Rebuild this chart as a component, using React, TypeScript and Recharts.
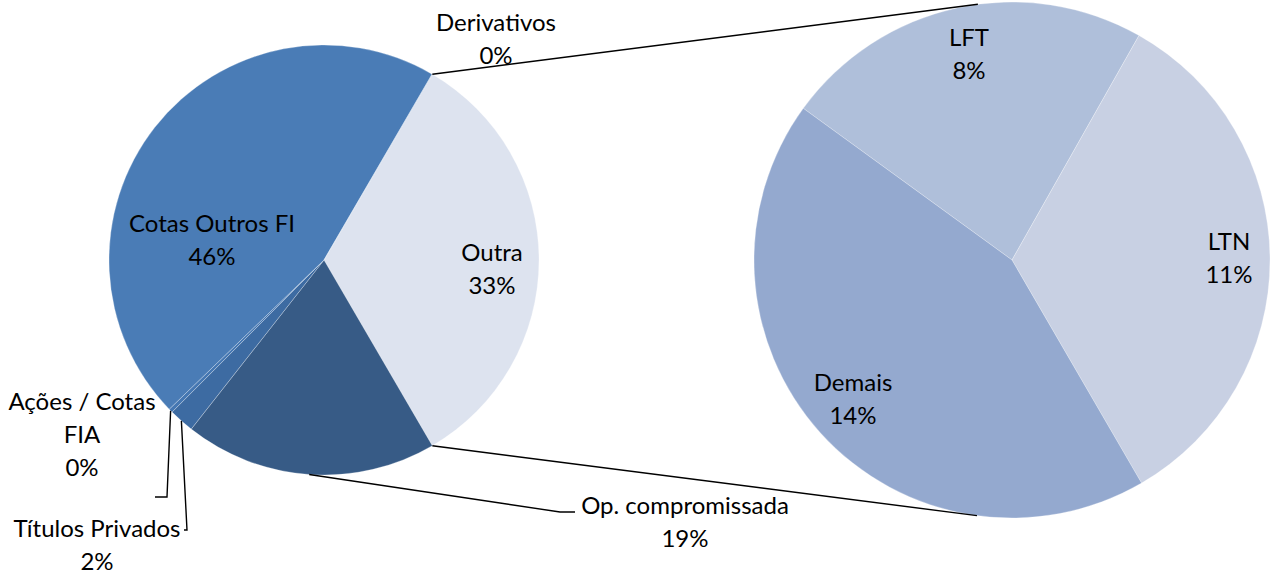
import React from 'react';
import { PieChart, Pie, Cell } from 'recharts';

// ---- data ----
const rightNames = ['LFT', 'LTN', 'Demais'];
const rightValues = [7.7, 11.1, 14.4];
const rightColors = ['#afbfda', '#c8d0e3', '#94a9cf'];

const outraValue = rightValues.reduce((a, b) => a + b, 0);
const leftNames = ['Outra', 'Op. compromissada', 'Títulos Privados', 'Ações / Cotas FIA', 'Cotas Outros FI', 'Derivativos'];
const leftValues = [outraValue, 19.0, 1.9, 0.3, 45.6, 0.02];
const leftColors = ['#dde3ef', '#375b86', '#3d6ba2', '#4577b2', '#4a7cb6', '#4a7cb6'];

const total = leftValues.reduce((a, b) => a + b, 0);

const leftData = leftNames.map((name, i) => ({ name, value: leftValues[i] }));
const rightData = rightNames.map((name, i) => ({ name, value: rightValues[i] }));

// ---- layout ----
const W = 1272;
const H = 578;
const L = { cx: 324, cy: 260, r: 215 };
const R = { cx: 1012, cy: 260, r: 258 };
const FONT = 'Lato, "Open Sans", sans-serif';
const FS = 24;
const LH = 33;

// label placement: x offset from pie centre, baseline of first line, wrapped lines, leader line points
type LabelCfg = { dx: number; y: number; lines?: string[]; leader?: [number, number][] };
const leftLabelCfg: Record<string, LabelCfg> = {
  'Outra': { dx: 168, y: 261 },
  'Cotas Outros FI': { dx: -112, y: 232 },
  'Op. compromissada': { dx: 361, y: 514, leader: [[560, 512], [575, 512]] },
  'Títulos Privados': { dx: -227, y: 537, leader: [[187, 530], [184, 530]] },
  'Ações / Cotas FIA': { dx: -242, y: 410, lines: ['Ações / Cotas', 'FIA'], leader: [[167, 497], [155, 497]] },
  'Derivativos': { dx: 172, y: 31 },
};
const rightLabelCfg: Record<string, LabelCfg> = {
  'LFT': { dx: -43, y: 46 },
  'LTN': { dx: 217, y: 250 },
  'Demais': { dx: -159, y: 391 },
};
const connectTop = 97.6;
const connectBottom = -97.8;

const RAD = Math.PI / 180;
const polar = (cx: number, cy: number, r: number, a: number): [number, number] => [
  cx + r * Math.cos(-a * RAD),
  cy + r * Math.sin(-a * RAD),
];

const pct = (v: number) => `${Math.round((v / total) * 100)}%`;

function renderLabel(cfgMap: Record<string, LabelCfg>, isLeft: boolean) {
  return (props: any) => {
    const { cx, cy, outerRadius, midAngle, startAngle, endAngle, name, value, index } = props;
    const cfg = cfgMap[name];
    if (!cfg) return null;
    const lines = [...(cfg.lines || [name]), pct(value)];
    const x = cx + cfg.dx;
    const els: React.ReactNode[] = [];
    if (cfg.leader) {
      const start = polar(cx, cy, outerRadius, midAngle);
      const pts = [start, ...cfg.leader].map((p) => p.join(',')).join(' ');
      els.push(<polyline key="ld" points={pts} fill="none" stroke="#000" strokeWidth={1.4} />);
    }
    if (isLeft && name === 'Outra') {
      const a = polar(cx, cy, outerRadius, startAngle);
      const b = polar(cx, cy, outerRadius, endAngle);
      const ta = polar(R.cx, R.cy, R.r, connectTop);
      const tb = polar(R.cx, R.cy, R.r, connectBottom);
      els.push(<line key="c1" x1={a[0]} y1={a[1]} x2={ta[0]} y2={ta[1]} stroke="#000" strokeWidth={1.4} />);
      els.push(<line key="c2" x1={b[0]} y1={b[1]} x2={tb[0]} y2={tb[1]} stroke="#000" strokeWidth={1.4} />);
    }
    els.push(
      <text key="t" x={x} y={cfg.y} textAnchor="middle" fontFamily={FONT} fontSize={FS} fill="#000">
        {lines.map((l, i) => (
          <tspan key={i} x={x} y={cfg.y + i * LH}>
            {l}
          </tspan>
        ))}
      </text>
    );
    return <g key={`lbl-${index}`}>{els}</g>;
  };
}

const leftStart = (outraValue / total) * 360 / 2;

export default function App() {
  return (
    <div style={{ position: 'absolute', left: 0, top: 0, width: W, height: H, background: '#fff' }}>
      <PieChart width={W} height={H} margin={{ top: 0, right: 0, bottom: 0, left: 0 }}>
        <Pie
          data={leftData}
          dataKey="value"
          nameKey="name"
          cx={L.cx}
          cy={L.cy}
          outerRadius={L.r}
          startAngle={leftStart}
          endAngle={leftStart - 360}
          stroke="#ffffff"
          strokeOpacity={0.45}
          strokeWidth={0.6}
          label={renderLabel(leftLabelCfg, true)}
          labelLine={false}
          isAnimationActive={false}
        >
          {leftData.map((d, i) => (
            <Cell key={d.name} fill={leftColors[i]} />
          ))}
        </Pie>
        <Pie
          data={rightData}
          dataKey="value"
          nameKey="name"
          cx={R.cx}
          cy={R.cy}
          outerRadius={R.r}
          startAngle={144}
          endAngle={-216}
          stroke="#ffffff"
          strokeOpacity={0.45}
          strokeWidth={0.6}
          label={renderLabel(rightLabelCfg, false)}
          labelLine={false}
          isAnimationActive={false}
        >
          {rightData.map((d, i) => (
            <Cell key={d.name} fill={rightColors[i]} />
          ))}
        </Pie>
      </PieChart>
    </div>
  );
}
